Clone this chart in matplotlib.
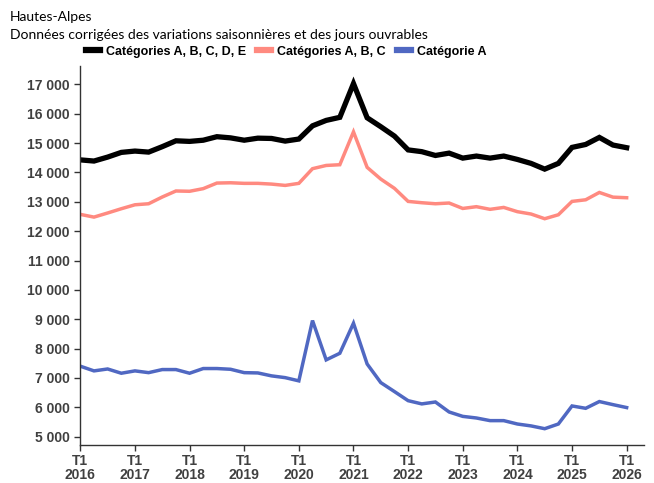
import matplotlib
matplotlib.use('Agg')
import matplotlib.pyplot as plt
from matplotlib.lines import Line2D

# quarterly values, T1 2016 -> T1 2026
years = [2016, 2017, 2018, 2019, 2020, 2021, 2022, 2023, 2024, 2025, 2026]
cat_abcde = [14430, 14390, 14525, 14685, 14730, 14695, 14880, 15080, 15060, 15100,
             15220, 15180, 15100, 15170, 15160, 15070, 15140, 15590, 15775, 15880,
             17030, 15865, 15560, 15240, 14770, 14710, 14580, 14660, 14490, 14560,
             14490, 14560, 14445, 14310, 14115, 14310, 14855, 14955, 15195, 14935,
             14845]
cat_abc = [12573, 12480, 12620, 12765, 12900, 12935, 13165, 13370, 13360, 13450,
           13640, 13650, 13630, 13630, 13605, 13560, 13630, 14130, 14240, 14265,
           15385, 14175, 13775, 13460, 13015, 12970, 12935, 12960, 12775, 12835,
           12745, 12810, 12665, 12585, 12425, 12560, 13015, 13070, 13320, 13160,
           13140]
cat_a = [7400, 7240, 7305, 7160, 7240, 7180, 7285, 7285, 7160, 7320,
         7320, 7295, 7180, 7170, 7070, 7010, 6900, 8955, 7615, 7840,
         8865, 7475, 6840, 6535, 6225, 6115, 6180, 5840, 5690, 5635,
         5545, 5545, 5430, 5365, 5270, 5430, 6045, 5965, 6195, 6090,
         5990]
labels = ['Catégories A, B, C, D, E', 'Catégories A, B, C', 'Catégorie A']
colors = ['#000000', '#FF8A80', '#5068C2']
widths = [3.8, 2.5, 2.5]

x = list(range(len(cat_a)))

fig = plt.figure(figsize=(6.54, 4.83), dpi=100)
ax = fig.add_axes([0.1228, 0.0787, 0.8619, 0.7843])

for vals, c, lw in zip([cat_abcde, cat_abc, cat_a], colors, widths):
    ax.plot(x, vals, color=c, lw=lw, solid_joinstyle='miter')

ax.set_xlim(0, 41.27)
ax.set_ylim(4715, 17623)
ax.set_yticks(range(5000, 17001, 1000))
ax.set_yticklabels([f'{v:,}'.replace(',', ' ') for v in range(5000, 17001, 1000)])
ax.set_xticks([4 * i for i in range(len(years))])
ax.set_xticklabels([f'T1\n{y}' for y in years], linespacing=1.0)

for s in ['top', 'right']:
    ax.spines[s].set_visible(False)
for s in ['left', 'bottom']:
    ax.spines[s].set_color('#333333')
    ax.spines[s].set_linewidth(1.0)
ax.tick_params(colors='#333333', length=4, width=1.0)
ax.tick_params(axis='x', pad=2.5)
for lab in ax.get_xticklabels() + ax.get_yticklabels():
    lab.set_fontweight('bold')
    lab.set_fontsize(10)
    lab.set_color('#404040')
    lab.set_family('Liberation Sans')

fig.text(0.015, 0.965, 'Hautes-Alpes', fontsize=10, family='Lato', va='center')
fig.text(0.015, 0.928, 'Données corrigées des variations saisonnières et des jours ouvrables',
         fontsize=10, family='Lato', va='center')

handles = [Line2D([], [], color=c, lw=4.5) for c in colors]
fig.legend(handles, labels, loc='center', bbox_to_anchor=(0.438, 0.893), ncol=3,
           frameon=False, handlelength=1.1, handletextpad=0.5, columnspacing=0.9,
           prop={'family': 'Liberation Sans', 'weight': 'bold', 'size': 9})

fig.savefig('out.png', dpi=100)
